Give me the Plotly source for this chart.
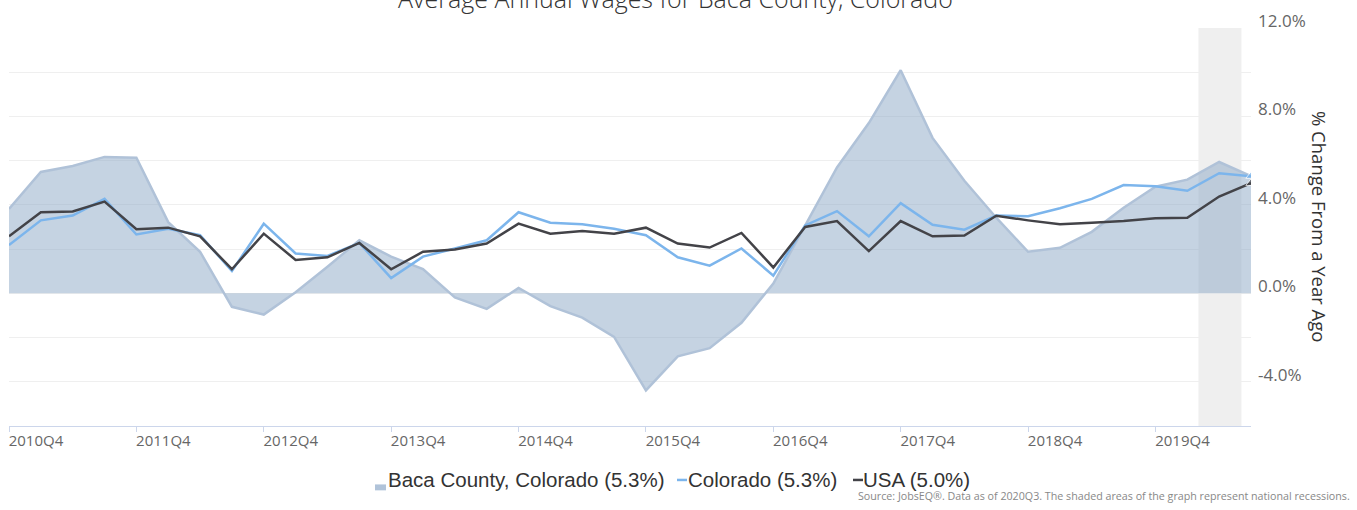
import plotly.graph_objects as go

quarters = []
for i in range(40):
    q = 4 + i
    year = 2010 + (q - 1) // 4
    qq = (q - 1) % 4 + 1
    quarters.append(f"{year}Q{qq}")

baca = [3.82, 5.49, 5.76, 6.17, 6.13, 3.22, 1.88, -0.61, -0.96, 0.05,
        1.2, 2.4, 1.66, 1.1, -0.18, -0.7, 0.24, -0.58, -1.1, -1.97,
        -4.39, -2.85, -2.48, -1.33, 0.44, 3.07, 5.69, 7.7, 10.09, 7.03,
        5.09, 3.42, 1.88, 2.06, 2.78, 3.87, 4.82, 5.14, 5.94, 5.3]
colorado = [2.18, 3.3, 3.52, 4.27, 2.66, 2.92, 2.63, 1.01, 3.15, 1.8,
            1.69, 2.28, 0.69, 1.66, 2.03, 2.4, 3.67, 3.19, 3.12, 2.92,
            2.63, 1.63, 1.25, 2.03, 0.8, 3.07, 3.72, 2.58, 4.08, 3.1,
            2.88, 3.52, 3.49, 3.85, 4.27, 4.9, 4.84, 4.64, 5.43, 5.3]
usa = [2.58, 3.67, 3.7, 4.15, 2.9, 2.97, 2.58, 1.09, 2.7, 1.51,
       1.63, 2.28, 1.09, 1.88, 1.98, 2.25, 3.15, 2.7, 2.82, 2.7,
       2.97, 2.25, 2.07, 2.73, 1.17, 3.0, 3.27, 1.91, 3.27, 2.58,
       2.61, 3.51, 3.3, 3.12, 3.19, 3.27, 3.4, 3.42, 4.38, 4.98]

tick_quarters = [q for q in quarters if q.endswith("Q4")]
y_tickvals = [-6, -4, -2, 0, 2, 4, 6, 8, 10, 12]
y_ticktext = ["", "-4.0%", "", "0.0%", "", "4.0%", "", "8.0%", "", "12.0%"]
recession = (37.35, 38.7)

series_names = ["Baca County, Colorado (5.3%)", "Colorado (5.3%)", "USA (5.0%)"]
title_text = "Average Annual Wages for Baca County, Colorado"
y_title = "% Change From a Year Ago"
source_text = "Source: JobsEQ®. Data as of 2020Q3. The shaded areas of the graph represent national recessions."

BLUE = "#7cb5ec"
DARK = "#434348"
FILL_LINE = "#b0c2d8"
SWATCH = "#b0c3d9"

W, H = 1357, 510
ML, MR, MT, MB = 9, 106, 24, 84
PW, PH = W - ML - MR, H - MT - MB


def px_x(p):
    return (p - ML) / PW


def px_y(p):
    return (H - MB - p) / PH


end_sizes = [0] * (len(quarters) - 1) + [9]

fig = go.Figure()
fig.add_trace(go.Scatter(
    x=quarters, y=baca, mode="lines", fill="tozeroy",
    fillcolor="rgba(139,167,197,0.5)",
    line=dict(color=FILL_LINE, width=2.5),
    name=series_names[0], hoverinfo="skip"))
fig.add_trace(go.Scatter(
    x=quarters, y=colorado, mode="lines+markers",
    line=dict(color=BLUE, width=2.5),
    marker=dict(symbol="triangle-up", size=end_sizes, color=BLUE),
    name=series_names[1]))
fig.add_trace(go.Scatter(
    x=quarters, y=usa, mode="lines+markers",
    line=dict(color=DARK, width=2.5),
    marker=dict(symbol="triangle-up", size=end_sizes, color=DARK),
    name=series_names[2]))

fig.add_shape(type="rect", xref="x", yref="paper",
              x0=recession[0], x1=recession[1], y0=0, y1=1,
              fillcolor="#efefef", line=dict(width=0), layer="below")

fig.update_layout(
    width=W, height=H,
    margin=dict(l=ML, r=MR, t=MT, b=MB),
    paper_bgcolor="white", plot_bgcolor="white",
    showlegend=False,
    font=dict(family="Open Sans", color="#666666"),
    xaxis=dict(
        type="category", range=[0, 39],
        tickmode="array", tickvals=tick_quarters, ticktext=tick_quarters,
        ticks="outside", ticklen=5, tickcolor="#ccd6eb",
        showline=True, linecolor="#ccd6eb", linewidth=1,
        showgrid=False, zeroline=False,
        tickfont=dict(size=15, color="#666666"),
        ticklabelshift=27, ticklabelstandoff=-4,
    ),
    yaxis=dict(
        side="right", range=[-6, 12],
        tickmode="array", tickvals=y_tickvals, ticktext=y_ticktext,
        showgrid=True, gridcolor="#efefef", gridwidth=1,
        zeroline=False, showline=False, ticks="",
        tickfont=dict(size=17, color="#666666"),
        ticklabelshift=-7, ticklabelstandoff=6,
    ),
)

fig.add_annotation(text=title_text, xref="paper", yref="paper",
                   x=px_x(675), y=px_y(-6), xanchor="center", yanchor="middle",
                   showarrow=False,
                   font=dict(family="Open Sans", size=25, color="#333333", weight=300))
fig.add_annotation(text=y_title, xref="paper", yref="paper",
                   x=px_x(1320), y=px_y(224), xanchor="center", yanchor="middle",
                   textangle=90, showarrow=False,
                   font=dict(family="Open Sans", size=18.5, color="#333333"))

# legend: swatch for the area series, short dashes for the line series
fig.add_shape(type="rect", xref="paper", yref="paper",
              x0=px_x(375), x1=px_x(386), y0=px_y(491), y1=px_y(485),
              fillcolor=SWATCH, line=dict(width=0))
for color, x0 in [(BLUE, 677), (DARK, 853)]:
    fig.add_shape(type="line", xref="paper", yref="paper",
                  x0=px_x(x0), x1=px_x(x0 + 10), y0=px_y(480.5), y1=px_y(480.5),
                  line=dict(color=color, width=2.5))
legend_items = [
    (series_names[0], 386),
    (series_names[1], 686),
    (series_names[2], 861),
]
for label, xpx in legend_items:
    fig.add_annotation(text=label, xref="paper", yref="paper",
                       x=px_x(xpx), y=px_y(480), xanchor="left", yanchor="middle",
                       showarrow=False,
                       font=dict(family="Liberation Sans", size=20.5, color="#333333"))

fig.add_annotation(text=source_text, xref="paper", yref="paper",
                   x=px_x(1352), y=px_y(497), xanchor="right", yanchor="middle",
                   showarrow=False,
                   font=dict(family="Open Sans", size=10.7, color="#888888"))

fig.write_html("out.html", config={"displayModeBar": False},
               post_script="document.body.style.margin='0';")
